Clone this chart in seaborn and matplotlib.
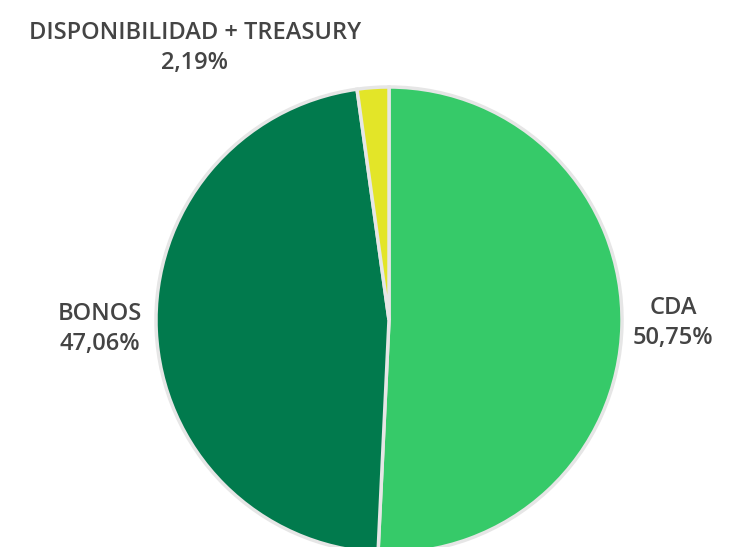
import matplotlib.pyplot as plt
import seaborn as sns

# datos de la cartera
categorias = ['CDA', 'BONOS', 'DISPONIBILIDAD + TREASURY']
porcentajes = [50.75, 47.06, 2.19]
colores = ['#36CA69', '#017A4D', '#E3E528']

sns.set_theme(style="white")
plt.rcParams['font.family'] = ['Open Sans', 'DejaVu Sans']

fig = plt.figure(figsize=(7.42, 5.47), dpi=100)
ax = fig.add_axes([0, 0, 1, 1])

# pie in pixel-like units so that it is cut at the bottom like the reference
ax.pie(porcentajes, colors=colores, startangle=90, counterclock=False,
       center=(389, 227), radius=233,
       wedgeprops=dict(edgecolor='#E6E6E6', linewidth=2.5))

etiquetas = [f"{c}\n{p:.2f}%".replace('.', ',') for c, p in zip(categorias, porcentajes)]
pos_etiquetas = [(673, 224), (100, 218), (195, 499)]
for txt, (x, y) in zip(etiquetas, pos_etiquetas):
    ax.text(x, y, txt, ha='center', va='center', fontsize=17, fontweight='semibold',
            color='#444444', linespacing=1.35)

ax.set_xlim(0, 742)
ax.set_ylim(0, 547)
ax.set_aspect('equal')
ax.axis('off')

plt.savefig('out.png', dpi=100)
